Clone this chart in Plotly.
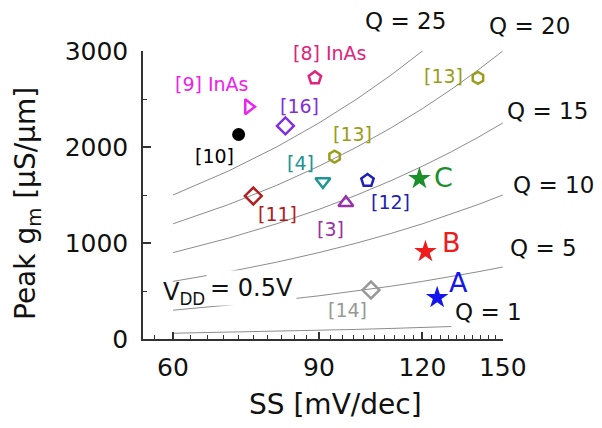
import math
import plotly.graph_objects as go

# ---------------- data ----------------
ss_grid = [60, 70, 80, 90, 100, 110, 120, 130, 140, 150]
q_names = ["Q = 25", "Q = 20", "Q = 15", "Q = 10", "Q = 5", "Q = 1"]
q25 = [1500, 1750, 2000, 2250, 2500, 2750, 3000]
q20 = [1200, 1400, 1600, 1800, 2000, 2200, 2400, 2600, 2800, 3000]
q15 = [900, 1050, 1200, 1350, 1500, 1650, 1800, 1950, 2100, 2250]
q10 = [600, 700, 800, 900, 1000, 1100, 1200, 1300, 1400, 1500]
q5 = [300, 350, 400, 450, 500, 550, 600, 650, 700, 750]
q1 = [60, 70, 80, 90, 100, 110, 120, 130]
q_curves = [q25, q20, q15, q10, q5, q1]

ref_names = ["[8] InAs", "[9] InAs", "[16]", "[13]", "[13]", "[10]", "[4]",
             "[12]", "[11]", "[3]", "[14]", "C", "B", "A"]
ref_ss = [89, 74, 82, 140, 94, 72, 91, 103, 75, 97, 104, 119, 121, 125]
ref_gm = [2720, 2420, 2220, 2720, 1900, 2130, 1640, 1650, 1490, 1420, 510, 1670, 910, 430]

x_ticks = [60, 90, 120, 150]
y_ticks = [0, 1000, 2000, 3000]

# ---------------- styles ----------------
sym = ["pentagon-open", "triangle-right-open", "diamond-open", "hexagon-open",
       "hexagon-open", "circle", "triangle-down-open", "pentagon-open",
       "diamond-open", "triangle-up-open", "diamond-open", "star", "star", "star"]
col = ["#e0237d", "#ee22ee", "#7f2fe0", "#9c9c1c", "#9c9c1c", "#000000",
       "#209595", "#1f1fb4", "#b02020", "#9932a8", "#999999",
       "#1a8f2a", "#ee1c1c", "#1515ee"]
msize = [13, 13, 13, 12, 12, 13, 13, 13, 13, 13, 13, 17, 17, 17]

# label positions in page pixels (center x, center y)
lab_pos = [(330, 53), (212, 84), (299, 106), (443, 76), (352, 134), (214, 156),
           (300, 163), (390, 202), (277, 214), (330, 229), (347, 310),
           (443, 177), (451, 242), (458, 282)]
lab_size = [19] * 11 + [27, 27, 27]
q_pos = [(363, 21), (487, 26), (505, 111), (511, 185), (508, 248), (453, 312)]

FONT = "DejaVu Sans"
OFF = 8  # page body margin offset
W, H = 602, 428
PX0, PX1, PY0, PY1 = 143, 503, 51, 339  # plot area in page pixels
L, T = PX0 - OFF, PY0 - OFF
PW, PH = PX1 - PX0, PY1 - PY0
R, B = W - L - PW, H - T - PH


def px(xp):
    return (xp - PX0) / PW


def py(yp):
    return (PY1 - yp) / PH


fig = go.Figure()

for name, ys in zip(q_names, q_curves):
    fig.add_trace(go.Scatter(x=ss_grid[:len(ys)], y=ys, mode="lines", name=name,
                             line=dict(color="#8c8c8c", width=1),
                             showlegend=False, hoverinfo="skip"))

for i in range(len(ref_ss)):
    filled = sym[i] in ("star", "circle")
    fig.add_trace(go.Scatter(
        x=[ref_ss[i]], y=[ref_gm[i]], mode="markers", name=ref_names[i],
        marker=dict(symbol=sym[i], size=msize[i], color=col[i],
                    line=dict(color=col[i], width=0 if filled else 2.5)),
        showlegend=False))

ann = []
for i, name in enumerate(ref_names):
    x0, y0 = lab_pos[i]
    ann.append(dict(text=name, x=px(x0), y=py(y0), xref="paper", yref="paper",
                    showarrow=False, xanchor="center", yanchor="middle",
                    font=dict(family=FONT, size=lab_size[i], color=col[i])))
for name, (x0, y0) in zip(q_names, q_pos):
    ann.append(dict(text=name, x=px(x0), y=py(y0), xref="paper", yref="paper",
                    showarrow=False, xanchor="left", yanchor="middle",
                    font=dict(family=FONT, size=23, color="#111111")))
# V_DD label
ann.append(dict(text="V<sub>DD</sub>", x=px(161), y=py(293), xref="paper", yref="paper",
                showarrow=False, xanchor="left", yanchor="middle",
                font=dict(family=FONT, size=24, color="#111111")))
ann.append(dict(text="= 0.5V", x=px(251), y=py(288), xref="paper", yref="paper",
                showarrow=False, xanchor="center", yanchor="middle", bgcolor="white",
                borderpad=3,
                font=dict(family=FONT, size=24, color="#111111")))
# axis titles
ann.append(dict(text="Peak g<sub>m</sub> [µS/µm]", x=px(27), y=py(203), xref="paper",
                yref="paper", showarrow=False, textangle=-90, xanchor="center",
                yanchor="middle", font=dict(family=FONT, size=28, color="#111111")))
ann.append(dict(text="SS [mV/dec]", x=px(335), y=py(404), xref="paper",
                yref="paper", showarrow=False, xanchor="center",
                yanchor="middle", font=dict(family=FONT, size=28, color="#111111")))

minor_x = [v for v in range(57, 150, 3) if v not in x_ticks]

fig.update_layout(
    width=W, height=H, margin=dict(l=L, r=R, t=T, b=B, autoexpand=False),
    paper_bgcolor="white", plot_bgcolor="white",
    annotations=ann, showlegend=False,
    xaxis=dict(type="log", range=[math.log10(55.2), math.log10(150.1)],
               tickvals=x_ticks, ticktext=[str(v) for v in x_ticks],
               ticks="inside", ticklen=7, tickwidth=1.5, tickcolor="#333",
               showline=True, linecolor="#333", linewidth=1.5,
               showgrid=False, zeroline=False, ticklabelstandoff=5,
               tickfont=dict(family=FONT, size=25, color="#111111"),
               minor=dict(tickvals=minor_x, ticks="inside", ticklen=4,
                          tickwidth=1, tickcolor="#333", showgrid=False)),
    yaxis=dict(range=[0, 3000], tickvals=y_ticks,
               ticks="inside", ticklen=8, tickwidth=1.5, tickcolor="#333",
               showline=True, linecolor="#333", linewidth=1.5,
               showgrid=False, zeroline=False, ticklabelstandoff=8,
               tickfont=dict(family=FONT, size=25, color="#111111"),
               minor=dict(dtick=500, ticks="inside", ticklen=4, tickwidth=1,
                          tickcolor="#333", showgrid=False)),
)

fig.write_html("out.html")
